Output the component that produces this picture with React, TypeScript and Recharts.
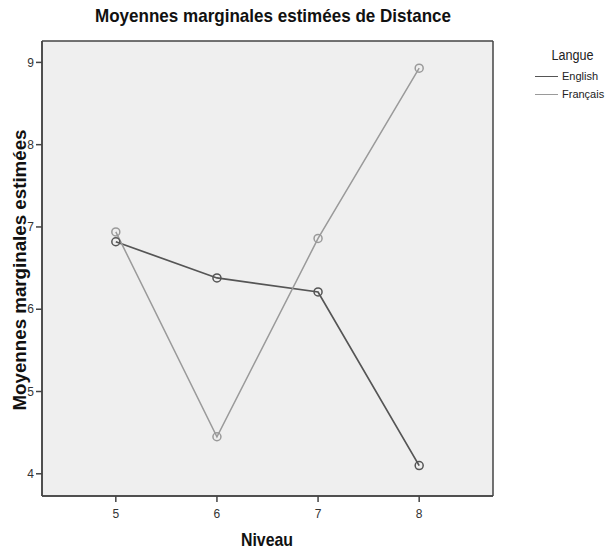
import { LineChart, Line, XAxis, YAxis, CartesianGrid, Legend } from "recharts";

const niveaux = [5, 6, 7, 8];
const english = [6.82, 6.38, 6.21, 4.1];
const francais = [6.94, 4.45, 6.86, 8.93];
const xTicks = [5, 6, 7, 8];
const yTicks = [4, 5, 6, 7, 8, 9];

const data = niveaux.map((n, i) => ({
  niveau: n,
  English: english[i],
  "Français": francais[i],
}));

const FONT = "'Liberation Sans', Arial, sans-serif";

const LegendBox = ({ payload }: { payload?: { value: string; color: string }[] }) => (
  <div style={{ fontFamily: FONT, color: "#222", width: 75 }}>
    <div style={{ fontSize: 14, textAlign: "center", marginBottom: 4, transform: "scaleX(0.9)" }}>
      Langue
    </div>
    {(payload || []).map((p) => (
      <div key={p.value} style={{ display: "flex", alignItems: "center", height: 18 }}>
        <span style={{ display: "inline-block", width: 23, borderTop: `1.5px solid ${p.color}`, marginRight: 4 }} />
        <span style={{ fontSize: 11 }}>{p.value}</span>
      </div>
    ))}
  </div>
);

export default function App() {
  return (
    <div style={{ position: "absolute", left: 0, top: 0, width: 610, height: 549, background: "#fff" }}>
      <LineChart
        width={610}
        height={549}
        data={data}
        margin={{ top: 41, right: 117, bottom: 0, left: 0 }}
      >
        <CartesianGrid
          fill="#efefef"
          stroke="#444"
          strokeWidth={1.5}
          horizontalCoordinatesGenerator={({ offset }: any) => [offset.top, offset.top + offset.height]}
          verticalCoordinatesGenerator={({ offset }: any) => [offset.left, offset.left + offset.width]}
        />
        <XAxis
          dataKey="niveau"
          type="number"
          domain={[4.27, 8.73]}
          ticks={xTicks}
          height={53}
          tickSize={6}
          tickMargin={7}
          axisLine={{ stroke: "#444", strokeWidth: 1.5 }}
          tickLine={{ stroke: "#444", strokeWidth: 1.5 }}
          tick={{ fill: "#333", fontSize: 12, fontFamily: FONT }}
        />
        <YAxis
          type="number"
          domain={[3.73, 9.26]}
          ticks={yTicks}
          width={42}
          tickSize={6}
          tickMargin={2}
          axisLine={{ stroke: "#444", strokeWidth: 1.5 }}
          tickLine={{ stroke: "#444", strokeWidth: 1.5 }}
          tick={{ fill: "#333", fontSize: 12, fontFamily: FONT }}
        />
        <Legend
          layout="vertical"
          verticalAlign="middle"
          align="center"
          content={<LegendBox />}
          wrapperStyle={{ position: "absolute", left: 535, top: 47, width: 75, height: 60 }}
        />
        <Line
          dataKey="English"
          stroke="#555"
          strokeWidth={1.7}
          dot={{ r: 4, stroke: "#555", strokeWidth: 1.5, fill: "none" }}
          isAnimationActive={false}
        />
        <Line
          dataKey="Français"
          stroke="#9a9a9a"
          strokeWidth={1.5}
          dot={{ r: 4, stroke: "#9a9a9a", strokeWidth: 1.5, fill: "none" }}
          isAnimationActive={false}
        />
      </LineChart>
      <svg
        width={610}
        height={549}
        style={{ position: "absolute", left: 0, top: 0, pointerEvents: "none" }}
      >
        <text
          x={273}
          y={22}
          textAnchor="middle"
          fontFamily={FONT}
          fontWeight="bold"
          fontSize={19}
          fill="#111"
          textLength={356}
          lengthAdjust="spacingAndGlyphs"
        >
          Moyennes marginales estimées de Distance
        </text>
        <text
          x={267}
          y={546}
          textAnchor="middle"
          fontFamily={FONT}
          fontWeight="bold"
          fontSize={19}
          fill="#111"
          textLength={52}
          lengthAdjust="spacingAndGlyphs"
        >
          Niveau
        </text>
        <text
          x={0}
          y={0}
          transform="translate(26,270) rotate(-90)"
          textAnchor="middle"
          fontFamily={FONT}
          fontWeight="bold"
          fontSize={19}
          fill="#111"
          textLength={281}
          lengthAdjust="spacingAndGlyphs"
        >
          Moyennes marginales estimées
        </text>
      </svg>
    </div>
  );
}
